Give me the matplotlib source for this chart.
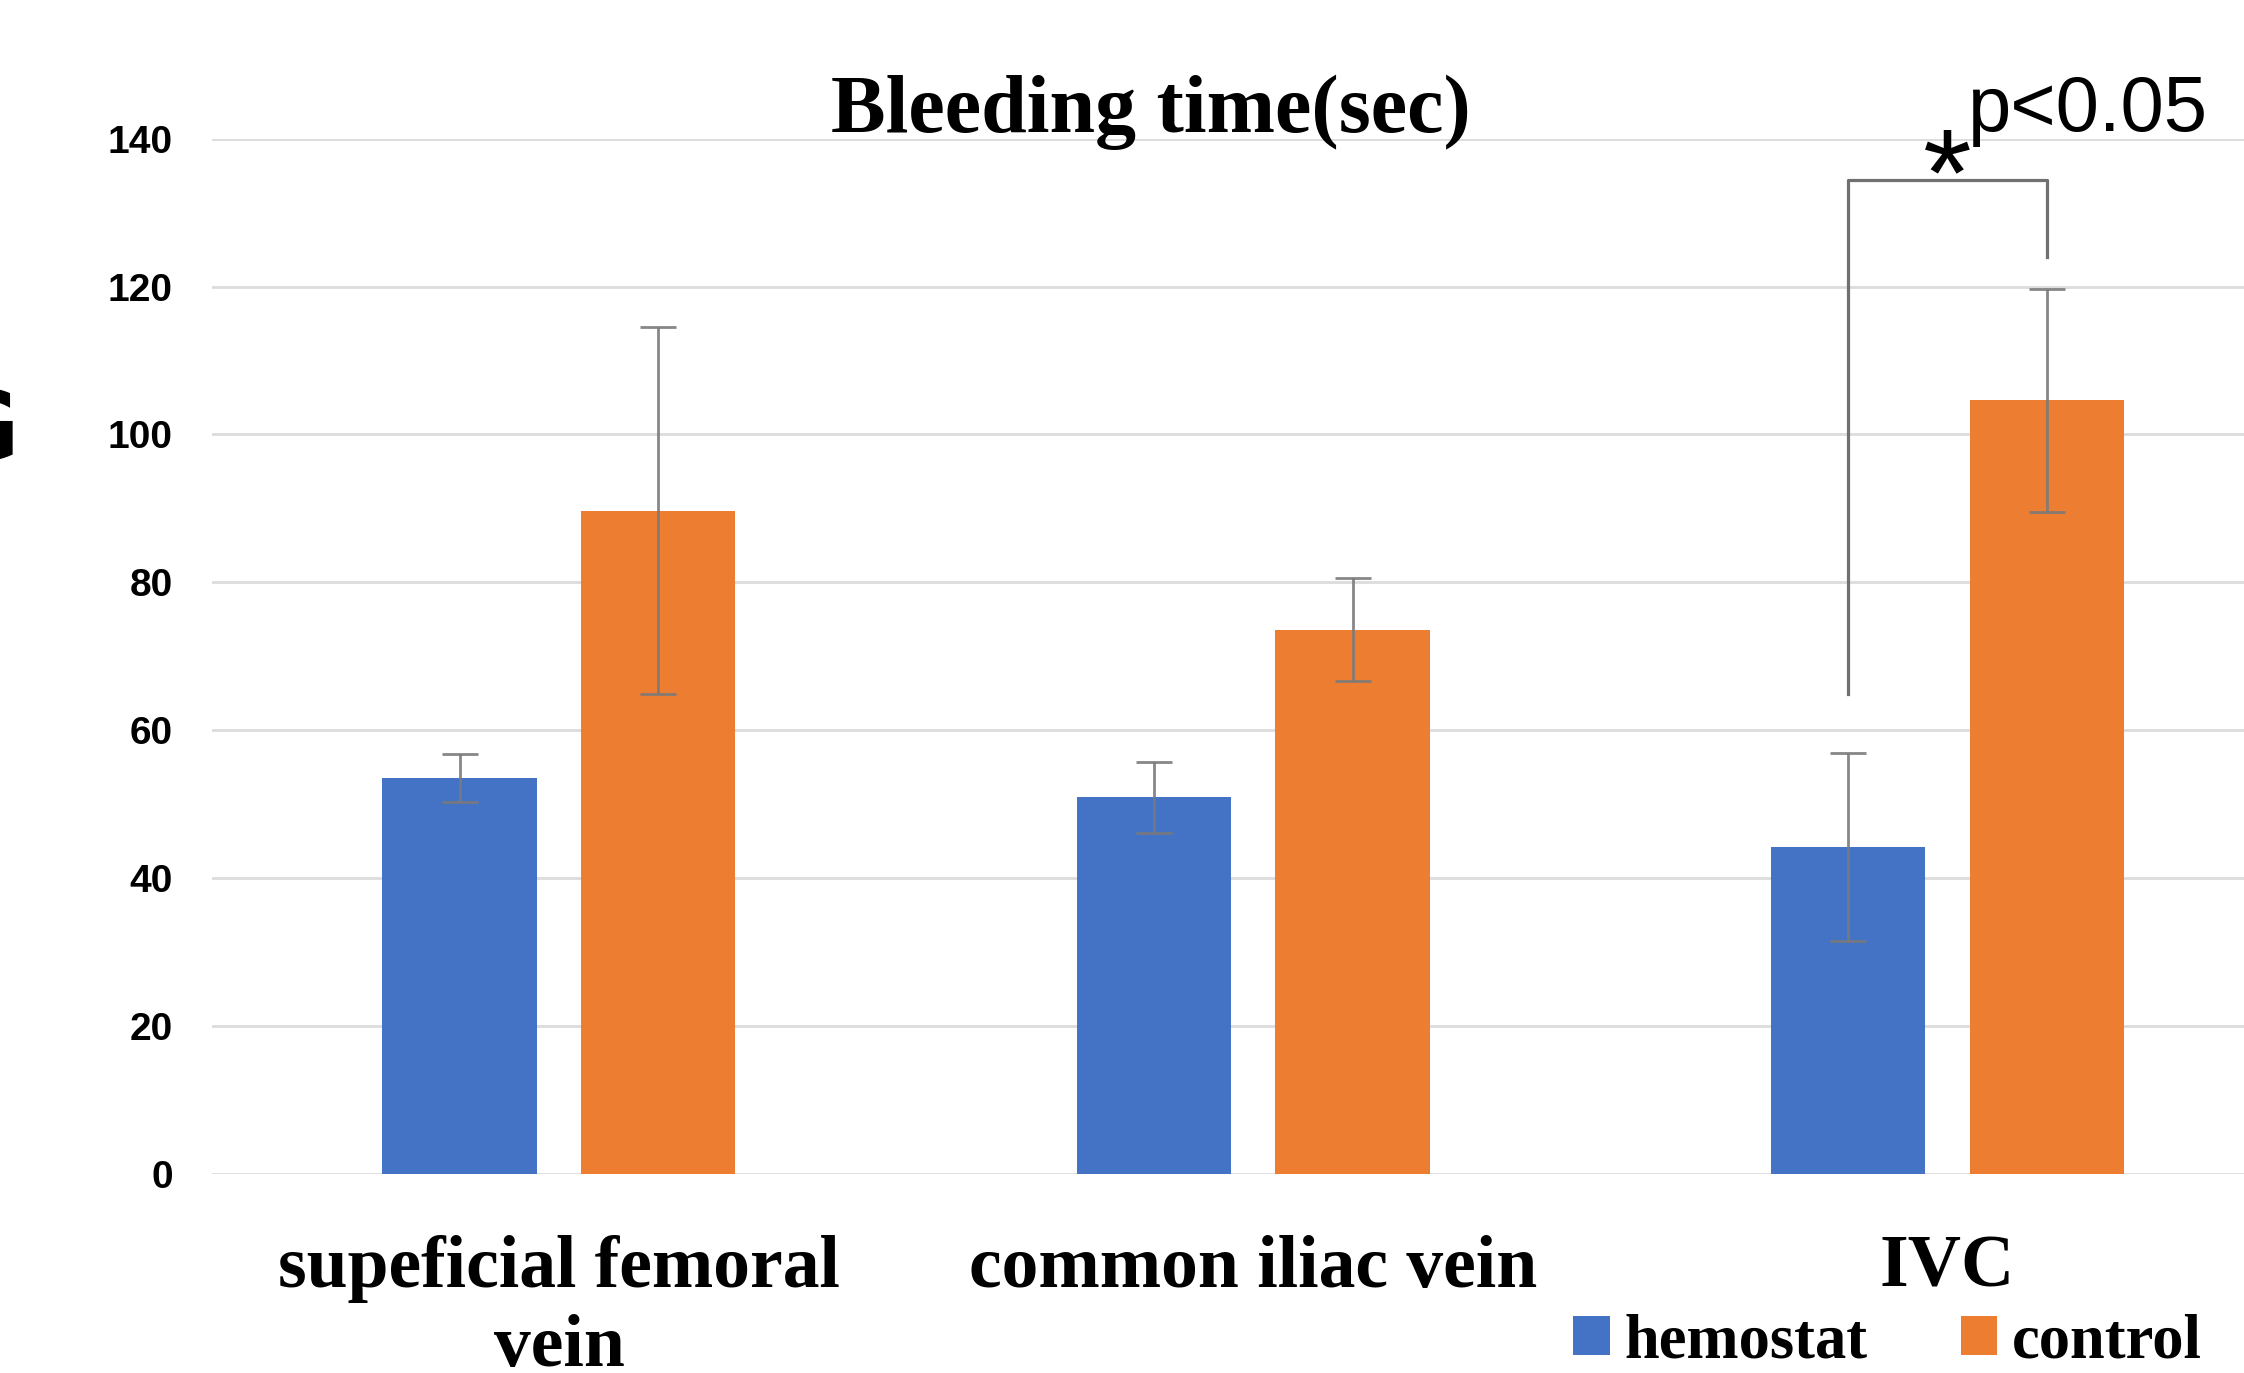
import matplotlib
matplotlib.use("Agg")
import matplotlib.pyplot as plt
import numpy as np

# ---- data ----
categories = ["supeficial femoral\nvein", "common iliac vein", "IVC"]
series_names = ["hemostat", "control"]
hemostat_mean = [53.5, 50.9, 44.2]
hemostat_err = [3.2, 4.8, 12.7]
control_mean = [89.7, 73.6, 104.6]
control_err = [24.8, 7.0, 15.1]
yticks = [0, 20, 40, 60, 80, 100, 120, 140]
title = "Bleeding time(sec)"
sig_text = "p<0.05"
# significance bracket levels (data units)
bracket_top = 134.4
bracket_left_bottom = 64.9
bracket_right_bottom = 124.0

blue = "#4472C4"
orange = "#ED7D31"

fig = plt.figure(figsize=(22.44, 13.73), dpi=100)
ax = fig.add_axes([0.0944, 0.1453, 1.0 - 0.0944, 0.8989 - 0.1453])

x = np.arange(len(categories))
off = 0.143
w = 0.2225
ekw = dict(ecolor="#7a7a7a", elinewidth=2.0, capsize=13, capthick=2.0, alpha=0.9)
ax.bar(x - off, hemostat_mean, width=w, color=blue, yerr=hemostat_err,
       error_kw=ekw, label=series_names[0], zorder=3)
ax.bar(x + off, control_mean, width=w, color=orange, yerr=control_err,
       error_kw=ekw, label=series_names[1], zorder=3)

ax.set_xlim(-0.5, 2.427)
ax.set_ylim(0, 140)
ax.set_yticks(yticks)
ax.yaxis.grid(True, color="#dcdcdc", linewidth=2.0, zorder=0)
ax.set_axisbelow(True)
for s in ax.spines.values():
    s.set_visible(False)
ax.tick_params(axis="both", length=0)
ax.tick_params(axis="y", pad=28)
ax.tick_params(axis="x", pad=44)
ax.set_xticks(x)
ax.set_xticklabels(categories, fontfamily="Liberation Serif", fontweight="bold",
                   fontsize=53, linespacing=1.22)
for lab in ax.get_yticklabels():
    lab.set_fontfamily("Liberation Sans")
    lab.set_fontweight("bold")
    lab.set_fontsize(28)

# significance bracket
xl = x[2] - off
xr = x[2] + off
ax.plot([xl, xl, xr, xr], [bracket_left_bottom, bracket_top, bracket_top, bracket_right_bottom],
        color="#707070", linewidth=2.3, clip_on=False, zorder=4)
ax.text((xl + xr) / 2, 129.6, "*", ha="center", va="baseline",
        fontsize=90, fontfamily="Liberation Sans", clip_on=False)
ax.text(2.03, 141.1, sig_text, ha="left", va="baseline", fontsize=56,
        fontfamily="Liberation Sans", clip_on=False)

# title
fig.text(0.513, 0.904, title, ha="center", va="baseline", fontsize=59,
         fontfamily="Liberation Serif", fontweight="bold")

# cut-off panel letter
fig.text(19 / 2244, 1 - 460 / 1373, "G", ha="right", va="baseline", fontsize=69,
         fontfamily="DejaVu Sans", fontweight="bold")

# legend
leg = fig.legend(loc="center right", bbox_to_anchor=(0.995, 0.022), ncol=2,
                 frameon=False, borderpad=0, handlelength=0.58, handleheight=0.58,
                 handletextpad=0.23, columnspacing=1.5,
                 prop=dict(family="Liberation Serif", weight="bold", size=45))

fig.savefig("out.png", dpi=100)
